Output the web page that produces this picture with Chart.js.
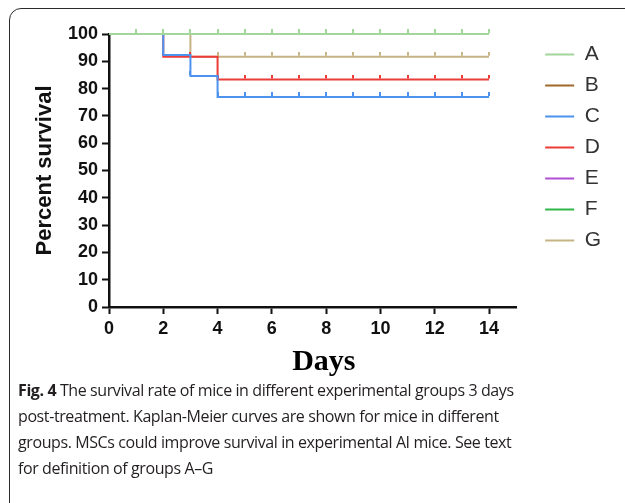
<!DOCTYPE html>
<html>
<head>
<meta charset="utf-8">
<script src="https://cdn.jsdelivr.net/npm/chart.js@4.4.0/dist/chart.umd.min.js"></script>
<style>
  html, body { margin: 0; padding: 0; background: #fff; overflow: hidden; }
  body { width: 625px; height: 503px; position: relative; }
  .frame {
    position: absolute; left: 9px; top: 8px; width: 660px; height: 540px;
    border: 1.5px solid #2b2b2b; border-radius: 12px; box-sizing: border-box;
  }
  .plot { position: absolute; left: 0; top: 0; width: 625px; height: 385px; }
  .caption {
    position: absolute; left: 18px; top: 377px; width: 600px;
    font-family: "Open Sans", sans-serif; font-size: 16px; line-height: 26px;
    letter-spacing: -0.4px; color: #231f20; white-space: nowrap;
  }
  .caption b { font-weight: 700; }
</style>
</head>
<body>
<div class="frame"></div>
<div class="plot"><canvas id="survivalChart"></canvas></div>
<div class="caption">
  <b>Fig. 4</b> The survival rate of mice in different experimental groups 3 days<br>
  post-treatment. Kaplan-Meier curves are shown for mice in different<br>
  groups. MSCs could improve survival in experimental AI mice. See text<br>
  for definition of groups A–G
</div>

<script>
// days after treatment
const days = [0, 1, 2, 3, 4, 5, 6, 7, 8, 9, 10, 11, 12, 13, 14];
const groups = ['A', 'B', 'C', 'D', 'E', 'F', 'G'];

// percent survival per group, one value per day
const groupA = [100, 100, 100, 100, 100, 100, 100, 100, 100, 100, 100, 100, 100, 100, 100];
const groupB = [100, 100, 100, 100, 100, 100, 100, 100, 100, 100, 100, 100, 100, 100, 100];
const groupC = [100, 100, 92.3, 84.6, 76.9, 76.9, 76.9, 76.9, 76.9, 76.9, 76.9, 76.9, 76.9, 76.9, 76.9];
const groupD = [100, 100, 91.7, 91.7, 83.3, 83.3, 83.3, 83.3, 83.3, 83.3, 83.3, 83.3, 83.3, 83.3, 83.3];
const groupE = [100, 100, 100, 100, 100, 100, 100, 100, 100, 100, 100, 100, 100, 100, 100];
const groupF = [100, 100, 100, 100, 100, 100, 100, 100, 100, 100, 100, 100, 100, 100, 100];
const groupG = [100, 100, 100, 91.7, 91.7, 91.7, 91.7, 91.7, 91.7, 91.7, 91.7, 91.7, 91.7, 91.7, 91.7];

const xTicks = [0, 2, 4, 6, 8, 10, 12, 14];
const yTicks = [0, 10, 20, 30, 40, 50, 60, 70, 80, 90, 100];

const seriesValues = [groupA, groupB, groupC, groupD, groupE, groupF, groupG];
const colors = ['#a3d69b', '#a0692c', '#4d93ee', '#ec3c37', '#b04fd3', '#2fb64a', '#c6b386'];

// little upward censor tick used as point style
function censorMark(color) {
  const c = document.createElement('canvas');
  c.width = 2;
  c.height = 10;
  const g = c.getContext('2d');
  g.fillStyle = color;
  g.fillRect(0, 0, 2, 4);
  return c;
}

const datasets = groups.map((name, i) => ({
  label: name,
  data: days.map((d, k) => ({ x: d, y: seriesValues[i][k] })),
  borderColor: colors[i],
  backgroundColor: colors[i],
  borderWidth: 2,
  stepped: true,
  fill: false,
  clip: false,
  pointStyle: censorMark(colors[i]),
  pointRadius: days.map(d => d === 0 ? 0 : 3),
  pointHoverRadius: 3
}));

const axisColor = '#111';

new Chart(document.getElementById('survivalChart'), {
  type: 'line',
  data: { datasets: datasets },
  options: {
    responsive: true,
    maintainAspectRatio: false,
    animation: false,
    layout: { padding: { top: 34, right: 14, bottom: 3, left: 0 } },
    scales: {
      x: {
        type: 'linear',
        min: 0,
        max: 15,
        afterBuildTicks: scale => { scale.ticks = xTicks.map(v => ({ value: v })); },
        afterFit: scale => { scale.height = 75; },
        grid: { drawOnChartArea: false, tickLength: 7, tickColor: axisColor, tickWidth: 2 },
        border: { color: axisColor, width: 2.5 },
        ticks: {
          padding: 4,
          color: axisColor,
          font: { family: 'Liberation Sans', size: 18, weight: 'bold' }
        },
        title: {
          display: true,
          text: '   Days',
          color: '#000',
          padding: { top: 0, bottom: 2 },
          font: { family: 'Liberation Serif', size: 30, weight: 'bold' }
        }
      },
      y: {
        min: 0,
        max: 100,
        afterBuildTicks: scale => { scale.ticks = yTicks.map(v => ({ value: v })); },
        afterFit: scale => { scale.width = 109; },
        grid: { drawOnChartArea: false, tickLength: 7, tickColor: axisColor, tickWidth: 2 },
        border: { color: axisColor, width: 2.5 },
        ticks: {
          padding: 4,
          color: axisColor,
          font: { family: 'Liberation Sans', size: 18, weight: 'bold' }
        },
        title: {
          display: true,
          text: 'Percent survival',
          color: axisColor,
          padding: { top: 32, bottom: 0 },
          font: { family: 'Liberation Sans', size: 22, weight: 'bold' }
        }
      },
      // empty axis that only keeps a gap between the plot and the legend
      gap: {
        type: 'linear',
        position: 'right',
        display: true,
        grid: { display: false },
        border: { display: false },
        ticks: { display: false },
        afterFit: scale => { scale.width = 19; }
      }
    },
    plugins: {
      legend: {
        position: 'right',
        align: 'start',
        labels: {
          usePointStyle: true,
          pointStyle: 'line',
          pointStyleWidth: 29,
          padding: 10,
          color: '#333',
          font: { family: 'Liberation Sans', size: 21 }
        }
      },
      tooltip: { enabled: false }
    }
  }
});
</script>
</body>
</html>
